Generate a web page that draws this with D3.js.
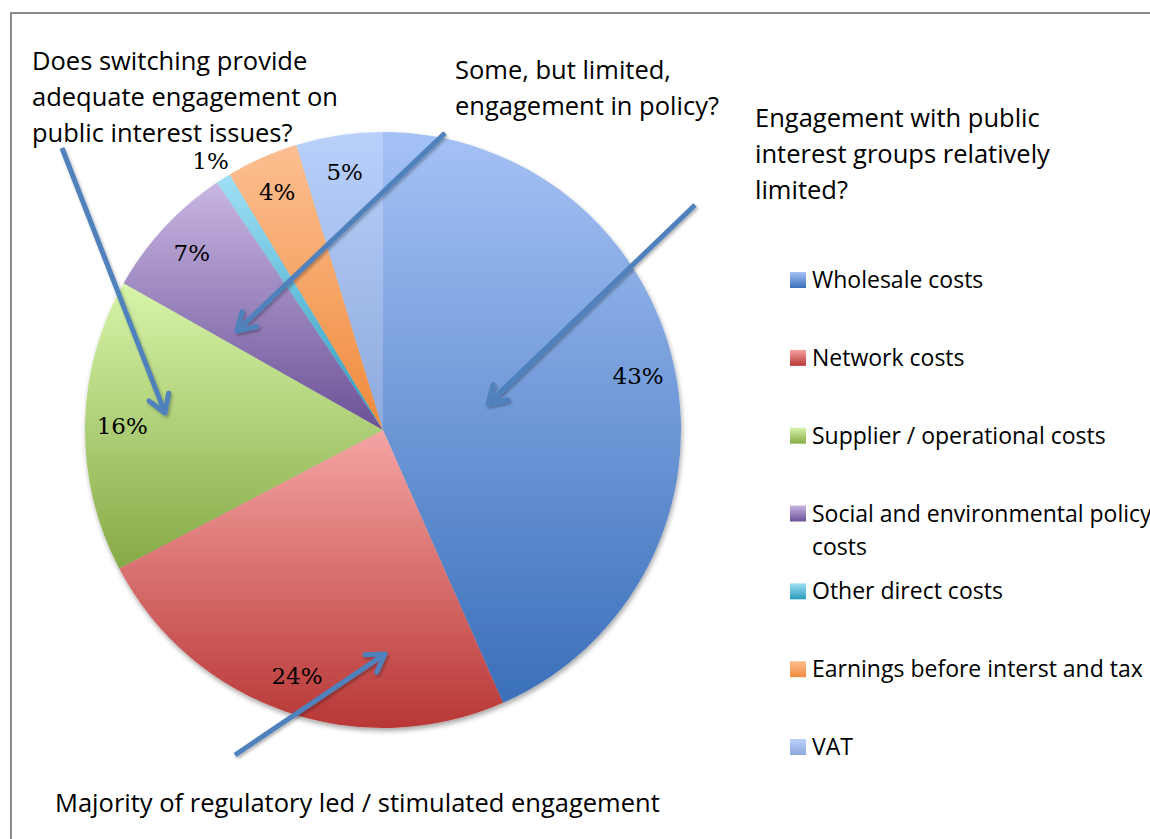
<!DOCTYPE html>
<head>
  <meta charset="utf-8">
  <script src="https://d3js.org/d3.v7.min.js"></script>
  <style>
    body { margin:0; background:#fff; }
  </style>
</head>
<body>
<script>
  var width = 1150;
  var height = 839;

  // data
  var categories = ["Wholesale costs", "Network costs", "Supplier / operational costs",
                    "Social and environmental policy costs", "Other direct costs",
                    "Earnings before interst and tax", "VAT"];
  var shares = [43.4, 23.9, 15.9, 7.4, 0.8, 3.9, 4.7];
  var topColors = ["#a5c2f5", "#f5a5a4", "#d8f5aa", "#c8b6e2", "#9fe0f5", "#fcbf91", "#b9d0fb"];
  var bottomColors = ["#3a6fba", "#b83735", "#85aa45", "#6a5196", "#2b9bbd", "#f08a3c", "#8da9dc"];

  var notes = [
    ["Does switching provide", "adequate engagement on", "public interest issues?"],
    ["Some, but limited,", "engagement in policy?"],
    ["Engagement with public", "interest groups relatively", "limited?"],
    ["Majority of regulatory led / stimulated engagement"]
  ];

  var svg = d3.select("body").append("svg")
    .attr("width", width)
    .attr("height", height);

  var defs = svg.append("defs");

  categories.forEach(function(c, i){
    var g = defs.append("linearGradient")
      .attr("id", "grad" + i)
      .attr("x1", 0).attr("y1", 0).attr("x2", 0).attr("y2", 1);
    g.append("stop").attr("offset", "0%").attr("stop-color", topColors[i]);
    g.append("stop").attr("offset", "100%").attr("stop-color", bottomColors[i]);
  });

  var shadow = defs.append("filter").attr("id", "shadow")
    .attr("x", "-10%").attr("y", "-10%").attr("width", "130%").attr("height", "130%");
  shadow.append("feDropShadow")
    .attr("dx", 1).attr("dy", 3).attr("stdDeviation", 2.5)
    .attr("flood-color", "#000").attr("flood-opacity", 0.35);

  var arrowShadow = defs.append("filter").attr("id", "ashadow")
    .attr("x", "-20%").attr("y", "-20%").attr("width", "140%").attr("height", "140%");
  arrowShadow.append("feDropShadow")
    .attr("dx", 1.5).attr("dy", 2).attr("stdDeviation", 1.5)
    .attr("flood-color", "#000").attr("flood-opacity", 0.3);

  // frame
  svg.append("path")
    .attr("d", "M11," + height + " V13 H" + width)
    .attr("fill", "none")
    .attr("stroke", "#8c8c8c")
    .attr("stroke-width", 2);

  var cx = 383, cy = 430, radius = 298;

  var pie = d3.pie().sort(null).value(function(d){ return d; });
  var arcs = pie(shares);

  var arc = d3.arc().innerRadius(0).outerRadius(radius);
  var labelArc = d3.arc().innerRadius(radius * 0.875).outerRadius(radius * 0.875);
  var outerLabelArc = d3.arc().innerRadius(radius * 1.08).outerRadius(radius * 1.08);

  var pieG = svg.append("g")
    .attr("transform", "translate(" + cx + "," + cy + ")");

  pieG.append("g").attr("filter", "url(#shadow)")
    .selectAll("path")
    .data(arcs)
    .enter()
    .append("path")
    .attr("d", arc)
    .attr("fill", function(d, i){ return "url(#grad" + i + ")"; });

  pieG.selectAll(".pct")
    .data(arcs)
    .enter()
    .append("text")
    .attr("class", "pct")
    .attr("transform", function(d){
      var p = d.data < 2 ? outerLabelArc.centroid(d) : labelArc.centroid(d);
      return "translate(" + p + ")";
    })
    .attr("text-anchor", "middle")
    .attr("dy", function(d){ return d.data < 2 ? "0.45em" : "0.35em"; })
    .attr("font-family", "DejaVu Serif, serif")
    .attr("font-size", 23)
    .attr("fill", "#000")
    .text(function(d){ return Math.round(d.data) + "%"; });

  // legend
  var legendY = d3.scalePoint().domain(categories).range([280, 747]);
  var legend = svg.append("g");
  var items = legend.selectAll(".item")
    .data(categories)
    .enter()
    .append("g")
    .attr("class", "item")
    .attr("transform", function(d){ return "translate(790," + legendY(d) + ")"; });

  items.append("rect")
    .attr("x", 0).attr("y", -8)
    .attr("width", 16).attr("height", 16)
    .attr("fill", function(d, i){ return "url(#grad" + i + ")"; });

  items.append("text")
    .attr("x", 22)
    .attr("y", 8)
    .attr("font-family", "Open Sans, sans-serif")
    .attr("font-size", 23)
    .attr("fill", "#000")
    .each(function(d){
      var t = d3.select(this);
      if (d.indexOf("policy costs") > -1) {
        t.append("tspan").attr("x", 22).text("Social and environmental policy");
        t.append("tspan").attr("x", 22).attr("dy", 33).text("costs");
      } else {
        t.text(d);
      }
    });

  // annotations
  var notePos = [[32, 70], [455, 79], [755, 127], [55, 812]];
  var notesG = svg.append("g");
  notes.forEach(function(lines, i){
    var t = notesG.append("text")
      .attr("x", notePos[i][0])
      .attr("y", notePos[i][1])
      .attr("font-family", "Open Sans, sans-serif")
      .attr("font-size", 25.5)
      .attr("fill", "#000");
    lines.forEach(function(l, j){
      t.append("tspan").attr("x", notePos[i][0]).attr("dy", j === 0 ? 0 : 36).text(l);
    });
  });

  // arrows
  var arrows = [
    [[62, 148], [165, 413]],
    [[445, 133], [237, 331]],
    [[695, 205], [488, 404]],
    [[235, 755], [385, 654]]
  ];
  var arrowG = svg.append("g").attr("filter", "url(#ashadow)");
  arrows.forEach(function(a){
    var x0 = a[0][0], y0 = a[0][1], x1 = a[1][0], y1 = a[1][1];
    var ang = Math.atan2(y1 - y0, x1 - x0);
    var hl = 20, spread = 0.55;
    var lx = x1 - hl * Math.cos(ang - spread), ly = y1 - hl * Math.sin(ang - spread);
    var rx = x1 - hl * Math.cos(ang + spread), ry = y1 - hl * Math.sin(ang + spread);
    arrowG.append("line")
      .attr("x1", x0).attr("y1", y0)
      .attr("x2", x1 - 2 * Math.cos(ang)).attr("y2", y1 - 2 * Math.sin(ang))
      .attr("stroke", "#4f81bd").attr("stroke-width", 5);
    arrowG.append("path")
      .attr("d", "M" + lx + "," + ly + " L" + x1 + "," + y1 + " L" + rx + "," + ry)
      .attr("fill", "none")
      .attr("stroke", "#4f81bd").attr("stroke-width", 5)
      .attr("stroke-linejoin", "round").attr("stroke-linecap", "round");
  });
</script>
</body>
